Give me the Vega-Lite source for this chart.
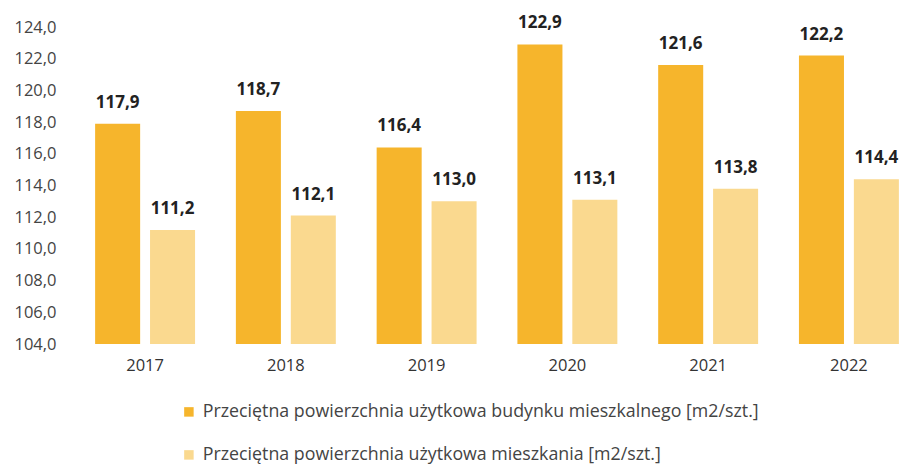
{
  "$schema": "https://vega.github.io/schema/vega-lite/v6.json",
  "autosize": "none",
  "padding": {"left": 74, "top": 27, "right": 0, "bottom": 120},
  "width": 846,
  "height": 317,
  "background": "white",
  "config": {
    "locale": {"number": {"decimal": ",", "thousands": " ", "grouping": [3], "currency": ["", " zł"]}},
    "view": {"stroke": null},
    "font": "Open Sans"
  },
  "data": {
    "values": [
      {"rok": "2017", "seria": "Przeciętna powierzchnia użytkowa budynku mieszkalnego [m2/szt.]", "wartosc": 117.9},
      {"rok": "2017", "seria": "Przeciętna powierzchnia użytkowa mieszkania [m2/szt.]", "wartosc": 111.2},
      {"rok": "2018", "seria": "Przeciętna powierzchnia użytkowa budynku mieszkalnego [m2/szt.]", "wartosc": 118.7},
      {"rok": "2018", "seria": "Przeciętna powierzchnia użytkowa mieszkania [m2/szt.]", "wartosc": 112.1},
      {"rok": "2019", "seria": "Przeciętna powierzchnia użytkowa budynku mieszkalnego [m2/szt.]", "wartosc": 116.4},
      {"rok": "2019", "seria": "Przeciętna powierzchnia użytkowa mieszkania [m2/szt.]", "wartosc": 113.0},
      {"rok": "2020", "seria": "Przeciętna powierzchnia użytkowa budynku mieszkalnego [m2/szt.]", "wartosc": 122.9},
      {"rok": "2020", "seria": "Przeciętna powierzchnia użytkowa mieszkania [m2/szt.]", "wartosc": 113.1},
      {"rok": "2021", "seria": "Przeciętna powierzchnia użytkowa budynku mieszkalnego [m2/szt.]", "wartosc": 121.6},
      {"rok": "2021", "seria": "Przeciętna powierzchnia użytkowa mieszkania [m2/szt.]", "wartosc": 113.8},
      {"rok": "2022", "seria": "Przeciętna powierzchnia użytkowa budynku mieszkalnego [m2/szt.]", "wartosc": 122.2},
      {"rok": "2022", "seria": "Przeciętna powierzchnia użytkowa mieszkania [m2/szt.]", "wartosc": 114.4}
    ]
  },
  "encoding": {
    "x": {
      "field": "rok", "type": "nominal",
      "scale": {"paddingInner": 0.29, "paddingOuter": 0.15},
      "axis": {"title": null, "labelAngle": 0, "domain": false, "ticks": false, "labelPadding": 13, "labelFontSize": 16.5, "labelColor": "#333333", "labelFont": "Open Sans"}
    },
    "xOffset": {"field": "seria", "type": "nominal", "scale": {"paddingInner": 0.18}},
    "y": {
      "field": "wartosc", "type": "quantitative",
      "scale": {"domain": [104, 124], "zero": false, "nice": false},
      "axis": {"title": null, "values": [104, 106, 108, 110, 112, 114, 116, 118, 120, 122, 124], "format": ".1f", "domain": false, "ticks": false, "grid": false, "labelPadding": 18, "labelFontSize": 16.5, "labelColor": "#444444", "labelFont": "Open Sans"}
    }
  },
  "layer": [
    {
      "mark": {"type": "bar", "clip": true},
      "encoding": {
        "y2": {"datum": 104},
        "color": {
          "field": "seria", "type": "nominal",
          "scale": {"range": ["#F6B52C", "#FAD98F"]},
          "legend": {
            "title": null, "orient": "none", "legendX": 106, "legendY": 376, "direction": "vertical",
            "symbolType": "square", "symbolSize": 90, "symbolStrokeWidth": 0, "labelFontSize": 17.8, "labelColor": "#444444",
            "labelLimit": 800, "rowPadding": 24, "labelOffset": 5, "labelFont": "Open Sans"
          }
        }
      }
    },
    {
      "mark": {"type": "text", "dy": -21, "fontSize": 17, "fontWeight": "bold", "color": "#222222", "font": "Open Sans"},
      "encoding": {
        "text": {"field": "wartosc", "type": "quantitative", "format": ".1f"}
      }
    }
  ]
}
